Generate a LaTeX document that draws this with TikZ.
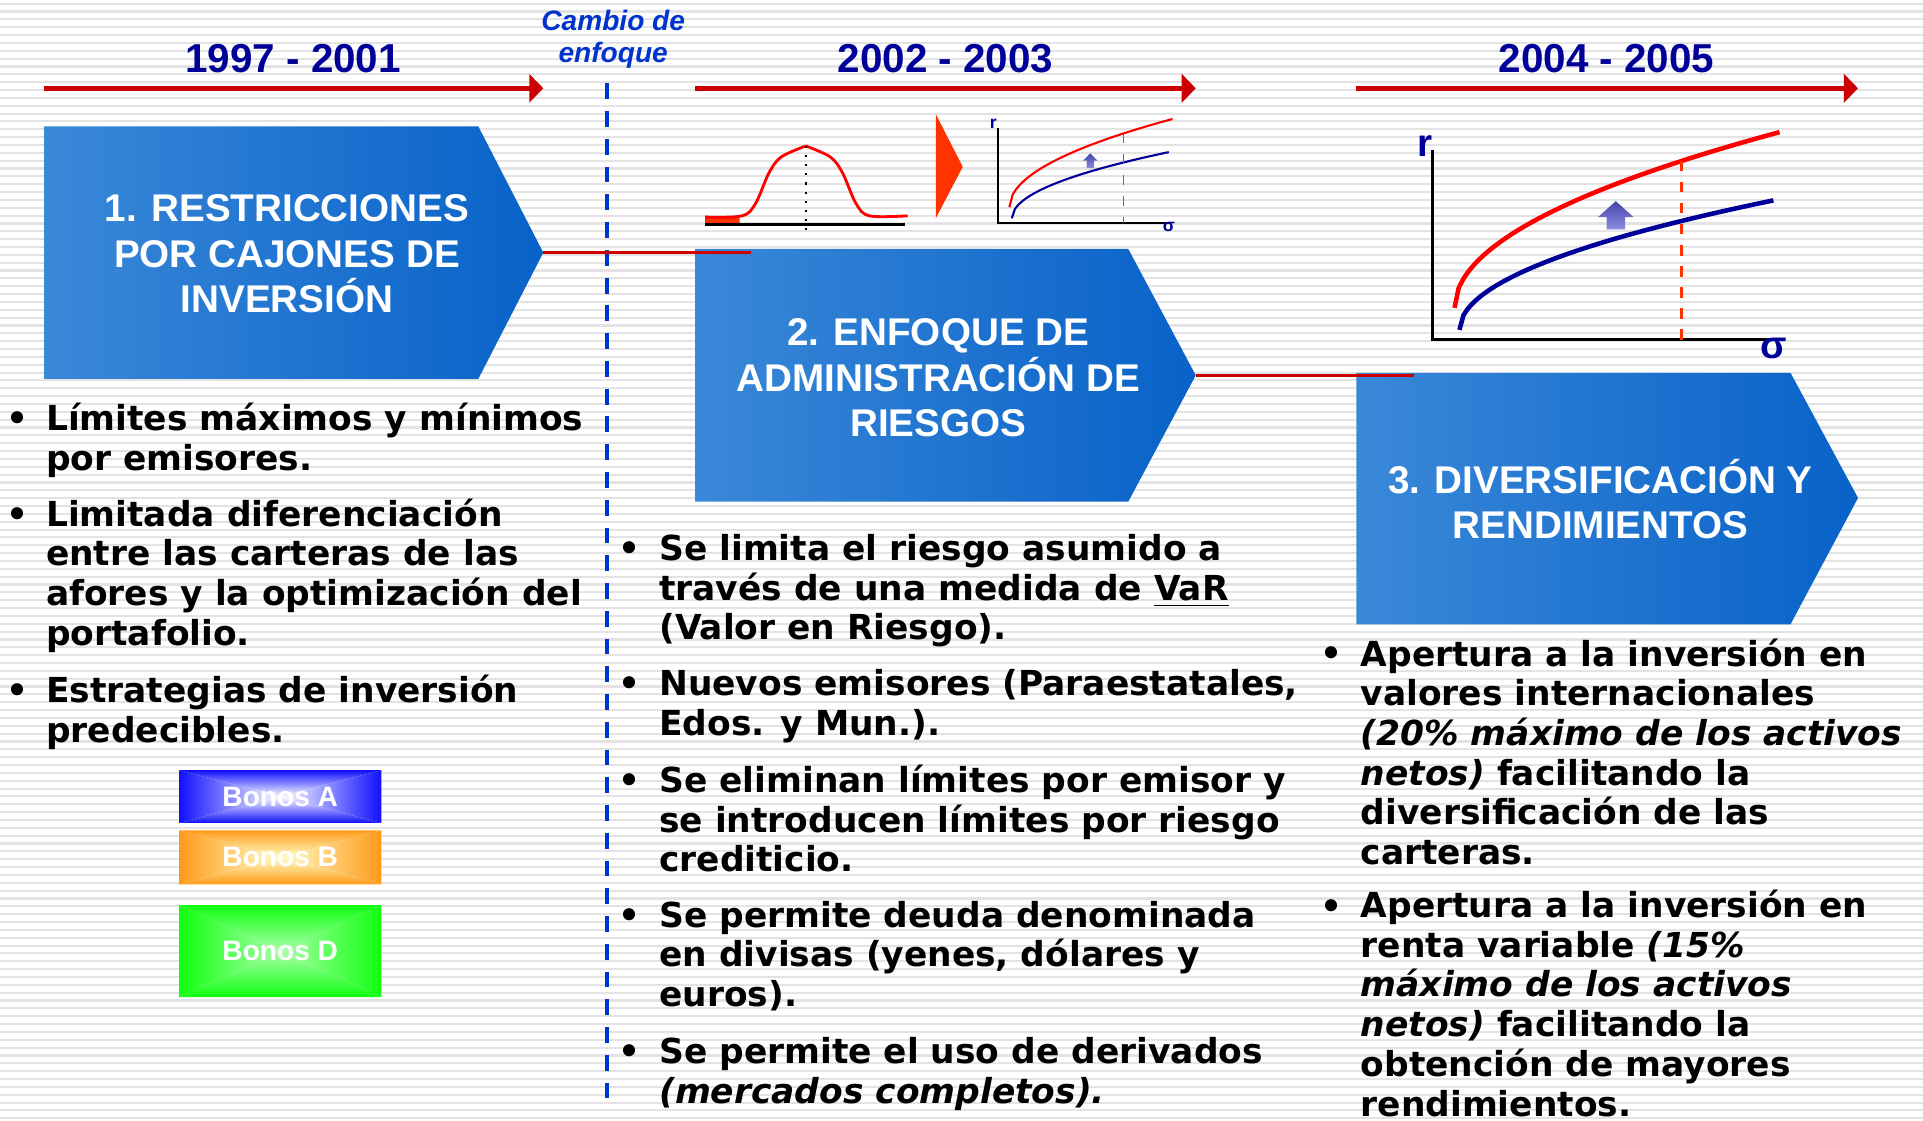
\documentclass[tikz,border=0pt]{standalone}
\usepackage{fontspec}
\setmainfont{DejaVu Sans}
\newfontfamily\headfont{Liberation Sans}
\usetikzlibrary{arrows.meta}

\definecolor{navy}{RGB}{0,0,153}
\definecolor{linered}{RGB}{204,0,0}
\definecolor{cambioblue}{RGB}{0,51,204}
\definecolor{boxL}{RGB}{58,136,216}
\definecolor{boxR}{RGB}{8,98,200}
\definecolor{curvered}{RGB}{255,0,0}
\definecolor{curveblue}{RGB}{0,0,153}
\definecolor{tailred}{RGB}{255,51,0}
\definecolor{uptop}{RGB}{68,68,170}
\definecolor{upbot}{RGB}{140,140,225}
\definecolor{bonoA}{RGB}{16,16,255}
\definecolor{bonoB}{RGB}{255,154,26}
\definecolor{bonoBc}{RGB}{255,255,200}
\definecolor{bonoD}{RGB}{16,255,16}
\definecolor{bonoDc}{RGB}{170,255,170}

\tikzset{
  stripe/.style={gray!22, line width=0.6pt},
  period/.style={font=\headfont\fontsize{11.5}{13}\selectfont\bfseries, text=navy},
  cambio/.style={font=\headfont\fontsize{8}{9.1}\selectfont\bfseries\itshape, text=cambioblue, align=center},
  timeline/.style={draw=linered, line width=1.5pt, -{Triangle[length=4pt,width=8pt]}},
  divider/.style={draw=cambioblue, line width=1.1pt, dash pattern=on 4.5pt off 3.4pt},
  chevron/.style={left color=boxL, right color=boxR},
  chevtext/.style={font=\headfont\fontsize{11}{12.9}\selectfont\bfseries, text=white, align=center},
  link/.style={draw=linered, line width=0.8pt},
  item/.style={font=\fontsize{9.8}{11.3}\selectfont\bfseries, align=left, anchor=base west, inner sep=0pt},
  dot/.style={font=\fontsize{9.8}{11.3}\selectfont\bfseries, anchor=base, inner sep=0pt},
  bonotext/.style={font=\headfont\fontsize{8}{9}\selectfont\bfseries, text=white},
  axis/.style={black, line width=0.9pt},
  axlabel/.style={font=\headfont\bfseries, text=navy, inner sep=0pt},
}

% rectangle with a gradient from the edges to the centre
\newcommand{\bonobox}[7]{%
  \coordinate (#1) at ({(#2+#4)/2},{(#3+#5)/2});
  \shade[top color=#6, bottom color=#7] (#2,#3) -- (#4,#3) -- (#1) -- cycle;
  \shade[top color=#7, bottom color=#6] (#2,#5) -- (#4,#5) -- (#1) -- cycle;
  \shade[left color=#6, right color=#7] (#2,#3) -- (#2,#5) -- (#1) -- cycle;
  \shade[left color=#7, right color=#6] (#4,#3) -- (#4,#5) -- (#1) -- cycle;
}

\begin{document}
\begin{tikzpicture}[x=0.012264cm, y=-0.012264cm]
\useasboundingbox (0,0) rectangle (1568,914);
\fill[white] (0,0) rectangle (1568,914);
\foreach \y in {3,9.4,...,914}
  \draw[stripe] (0,\y) -- (1568,\y);

% periodos
\node[period] (p1) at (239,48) {1997 - 2001};
\node[period] (p2) at (771,48) {2002 - 2003};
\node[period] (p3) at (1310,48) {2004 - 2005};
\node[cambio] (cambio) at (500,32) {Cambio de\\enfoque};

\coordinate (t1s) at (36,72);   \coordinate (t1e) at (443,72);
\coordinate (t2s) at (567,72);  \coordinate (t2e) at (975,72);
\coordinate (t3s) at (1106,72); \coordinate (t3e) at (1515,72);
\draw[timeline] (t1s) -- (t1e);
\draw[timeline] (t2s) -- (t2e);
\draw[timeline] (t3s) -- (t3e);

\coordinate (divtop) at (495,68);
\coordinate (divbot) at (495,905);
\draw[divider] (divtop) -- (divbot);

% flechas de etapas
\shade[chevron] (36,103) -- (390,103) -- (443,206) -- (390,309) -- (36,309) -- cycle;
\shade[chevron] (567,203) -- (920,203) -- (975,306) -- (920,409) -- (567,409) -- cycle;
\shade[chevron] (1106,304) -- (1460,304) -- (1515,406) -- (1460,509) -- (1106,509) -- cycle;
\node[chevtext] (box1) at (234,207) {1. RESTRICCIONES\\POR CAJONES DE\\INVERSIÓN};
\node[chevtext] (box2) at (765,308) {2. ENFOQUE DE\\ADMINISTRACIÓN DE\\RIESGOS};
\node[chevtext] (box3) at (1305,407) {3. DIVERSIFICACIÓN Y\\RENDIMIENTOS};

\coordinate (tip1) at (443,206); \coordinate (end1) at (612,206);
\coordinate (tip2) at (975,306); \coordinate (end2) at (1153,306);
\draw[link] (tip1) -- (end1);
\draw[link] (tip2) -- (end2);

% curva normal
\fill[tailred] (575,176) -- (603,177) -- (603,183) -- (575,183) -- cycle;
\draw[black, line width=1pt] (575,183) -- (738,183);
\draw[curvered, line width=0.8pt] plot[smooth, tension=0.55] coordinates
  {(575,177) (605,176) (616,166) (627,141) (637,128) (657,119)};
\draw[curvered, line width=0.8pt] plot[smooth, tension=0.55] coordinates
  {(657,119) (677,128) (687,141) (698,166) (709,176) (740,176)};
\draw[black, dotted, line width=0.6pt] (657,119) -- (657,190);

\fill[tailred] (763,93) -- (785,136) -- (763,178) -- cycle;

% frontera chica
\draw[axis, line width=0.6pt] (814,104) -- (814,182) -- (954,182);
\node[axlabel, font=\headfont\bfseries\fontsize{5}{6}\selectfont] (rsmall) at (810,101) {r};
\node[axlabel, font=\headfont\bfseries\fontsize{5}{6}\selectfont] (ssmall) at (953,185) {σ};
\draw[curvered, line width=0.6pt] plot[domain=823:956, samples=50] (\x, {169-6.24*sqrt(\x-823)});
\draw[curveblue, line width=0.6pt] plot[domain=825:953, samples=50] (\x, {178-4.77*sqrt(\x-825)});
\draw[tailred, dashed, line width=0.4pt] (916,108) -- (916,182);
\shade[top color=uptop, bottom color=upbot] (883,131) -- (889,125) -- (895,131) -- (892,131) -- (892,137) -- (886,137) -- (886,131) -- cycle;

% frontera grande
\draw[axis] (1168,122) -- (1168,277) -- (1451,277);
\node[axlabel, font=\headfont\bfseries\fontsize{11}{12}\selectfont] (rbig) at (1162,119) {r};
\node[axlabel, font=\headfont\bfseries\fontsize{11}{12}\selectfont] (sbig) at (1446,284) {σ};
\draw[curvered, line width=1.3pt] plot[domain=1186:1451, samples=80] (\x, {251-8.8*sqrt(\x-1186)});
\draw[curveblue, line width=1.3pt] plot[domain=1190:1446, samples=80] (\x, {269-6.6*sqrt(\x-1190)});
\draw[tailred, dashed, line width=0.8pt] (1371,131) -- (1371,277);
\shade[top color=uptop, bottom color=upbot] (1303,177) -- (1317.5,164) -- (1332,177) -- (1325,177) -- (1325,187) -- (1310,187) -- (1310,177) -- cycle;

% columna 1 (nodes anchored at the baseline of their last line)
\node[dot] (d1a) at (14,351) {•};
\node[item] (c1a) at (37,383.4) {Límites máximos y mínimos\\por emisores.};
\node[dot] (d1b) at (14,429) {•};
\node[item] (c1b) at (37,526.2) {Limitada diferenciación\\entre las carteras de las\\afores y la optimización del\\portafolio.};
\node[dot] (d1c) at (14,573) {•};
\node[item] (c1c) at (37,605.4) {Estrategias de inversión\\predecibles.};

\bonobox{bA}{146}{628}{311}{671}{bonoA}{white}
\bonobox{bB}{146}{677}{311}{721}{bonoB}{bonoBc}
\bonobox{bD}{146}{738}{311}{813}{bonoD}{bonoDc}
\node[bonotext] (bonosA) at (bA) {Bonos A};
\node[bonotext] (bonosB) at (bB) {Bonos B};
\node[bonotext] (bonosD) at (bD) {Bonos D};

% columna 2
\node[dot] (d2a) at (513,457) {•};
\node[item] (c2a) at (537,521.8) {Se limita el riesgo asumido a\\través de una medida de \underline{VaR}\\(Valor en Riesgo).};
\node[dot] (d2b) at (513,567) {•};
\node[item] (c2b) at (537,599.4) {Nuevos emisores (Paraestatales,\\Edos. y Mun.).};
\node[dot] (d2c) at (513,646) {•};
\node[item] (c2c) at (537,710.8) {Se eliminan límites por emisor y\\se introducen límites por riesgo\\crediticio.};
\node[dot] (d2d) at (513,756) {•};
\node[item] (c2d) at (537,820.8) {Se permite deuda denominada\\en divisas (yenes, dólares y\\euros).};
\node[dot] (d2e) at (513,867) {•};
\node[item] (c2e) at (537,899.4) {Se permite el uso de derivados\\\textit{(mercados completos).}};

% columna 3
\node[dot] (d3a) at (1086,543) {•};
\node[item] (c3a) at (1109,705) {Apertura a la inversión en\\valores internacionales\\\textit{(20\% máximo de los activos}\\\textit{netos)} facilitando la\\diversificación de las\\carteras.};
\node[dot] (d3b) at (1086,749) {•};
\node[item] (c3b) at (1109,910) {Apertura a la inversión en\\renta variable \textit{(15\%}\\\textit{máximo de los activos}\\\textit{netos)} facilitando la\\obtención de mayores\\rendimientos.};
\end{tikzpicture}
\end{document}
